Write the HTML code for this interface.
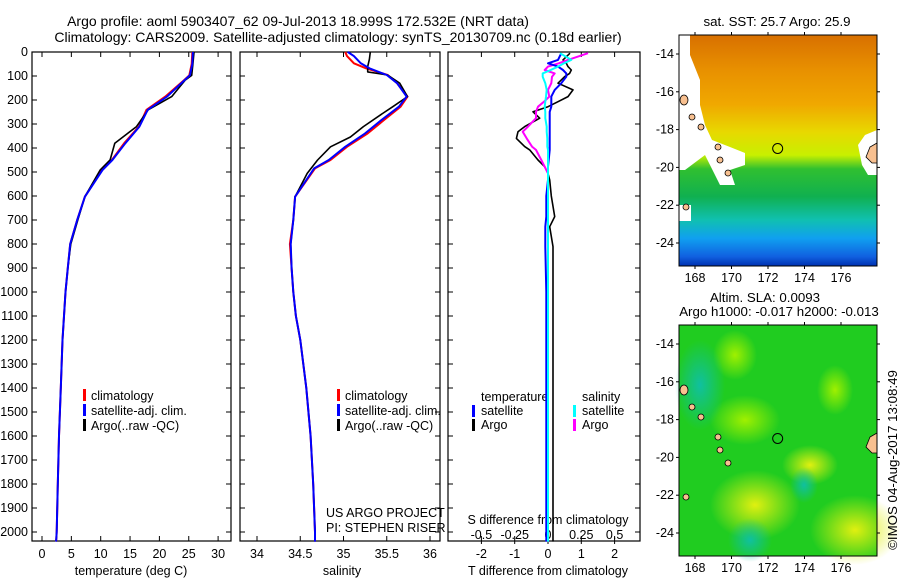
<!DOCTYPE html>
<html><head><meta charset="utf-8">
<style>
html,body{margin:0;padding:0;background:#fff;}
svg{display:block;font-family:"Liberation Sans",Arial,sans-serif;}
text{font-size:12.5px;fill:#000;}
.tt{font-size:14px;}
.mt{font-size:13.3px;}
</style></head>
<body>
<svg id="c" width="900" height="580" viewBox="0 0 900 580">
<defs>
<linearGradient id="sst" x1="0" y1="0" x2="0" y2="1">
<stop offset="0" stop-color="#d87000"/>
<stop offset="0.15" stop-color="#e89000"/>
<stop offset="0.3" stop-color="#f0a800"/>
<stop offset="0.42" stop-color="#e8d800"/>
<stop offset="0.52" stop-color="#c8f000"/>
<stop offset="0.58" stop-color="#30c030"/>
<stop offset="0.7" stop-color="#10b050"/>
<stop offset="0.8" stop-color="#10c0b0"/>
<stop offset="0.88" stop-color="#10a0f0"/>
<stop offset="0.96" stop-color="#1060e0"/>
<stop offset="1" stop-color="#0030b0"/>
</linearGradient>
<radialGradient id="yel"><stop offset="0" stop-color="#e0f010"/><stop offset="1" stop-color="#e0f010" stop-opacity="0"/></radialGradient>
<radialGradient id="lg"><stop offset="0" stop-color="#a0f000"/><stop offset="1" stop-color="#a0f000" stop-opacity="0"/></radialGradient>
<radialGradient id="tl"><stop offset="0" stop-color="#10c0a0"/><stop offset="1" stop-color="#10c0a0" stop-opacity="0"/></radialGradient>
</defs>
<g id="titles">
<text class="tt" x="298" y="26" text-anchor="middle">Argo profile: aoml 5903407_62 09-Jul-2013 18.999S 172.532E (NRT data)</text>
<text class="tt" x="338" y="42" text-anchor="middle">Climatology: CARS2009. Satellite-adjusted climatology: synTS_20130709.nc (0.18d earlier)</text>
</g>
<g id="plots"></g>
</svg>
<script>
// ---------- data ----------
const tDepth = [0,50,97,117,186,241,311,380,450,492,603,700,800,900,1000,1200,1400,1600,1800,2000,2040];
const tClim  = [25.6,25.5,25.1,24.2,21.0,17.8,16.5,14.0,11.9,10.2,7.3,6.0,4.8,4.4,4.0,3.5,3.2,2.9,2.7,2.5,2.4];
const tSat   = [25.7,25.6,25.2,24.3,21.3,18.0,16.6,14.2,12.0,10.3,7.3,6.0,4.8,4.4,4.0,3.5,3.2,2.9,2.7,2.5,2.4];
const tArgo  = [25.9,25.7,25.5,24.4,22.1,18.1,16.1,12.4,11.6,9.9,7.3,6.1,4.9,4.4,4.0,3.5,3.2,2.9,2.7,2.5,2.4];

const sDepth = [0,17,47,68,96,130,186,228,283,339,395,450,485,603,700,800,900,1000,1100,1200,1400,1600,1800,2000,2040];
const sClim  = [35.02,35.04,35.12,35.26,35.51,35.62,35.74,35.66,35.47,35.28,35.04,34.85,34.67,34.44,34.42,34.38,34.40,34.42,34.45,34.50,34.57,34.62,34.65,34.67,34.67];
const sSat   = [35.05,35.12,35.20,35.30,35.50,35.62,35.73,35.64,35.44,35.25,35.02,34.83,34.66,34.44,34.42,34.39,34.40,34.42,34.45,34.50,34.57,34.62,34.65,34.67,34.67];
const aDepth = [0,30,61,83,96,130,186,228,254,311,354,395,450,506,603,700,800,900,1000,1100,1200,1400,1600,1800,2000,2040];
const sArgo  = [35.31,35.30,35.28,35.28,35.51,35.65,35.74,35.57,35.46,35.23,35.08,34.85,34.70,34.58,34.44,34.42,34.39,34.40,34.42,34.45,34.50,34.57,34.62,34.65,34.67,34.67];

const dDepth = [5,33,47,61,75,89,103,130,158,186,207,228,249,276,311,332,360,394,408,450,478,506,533,600,686,728,811,1000,1500,2040];
const dTSat  = [0.4,0.3,0.0,0.3,0.45,0.55,0.55,0.4,0.2,0.1,0.1,0.1,0.05,0.05,0.05,0.05,0.05,0.05,0.05,0.02,0.0,0.0,0.0,-0.05,-0.05,-0.08,-0.08,-0.05,-0.05,-0.05];
const dTArgo = [0.66,0.45,0.55,0.6,0.7,0.65,0.5,0.3,0.75,0.6,0.3,0.0,-0.45,-0.25,-0.7,-0.9,-0.95,-0.7,-0.55,-0.3,-0.1,0.0,0.05,0.1,0.2,0.05,0.15,0.15,0.15,0.15];
const dSSat  = [0.09,0.175,0.12,0.075,0.02,-0.04,-0.04,-0.02,-0.01,-0.015,-0.02,-0.025,-0.02,-0.02,-0.01,-0.01,-0.005,-0.005,0,0,0,0,0,0,0,0,0,0,0,0];
const dSArgo = [0.3,0.15,0.08,0.0,-0.025,0.05,0.03,0.025,0.0,0.01,-0.03,-0.075,-0.09,-0.09,-0.15,-0.19,-0.16,-0.12,-0.09,-0.05,-0.025,0,0,0,0,0,0,0,0,0];

const yTicks = [0,100,200,300,400,500,600,700,800,900,1000,1100,1200,1300,1400,1500,1600,1700,1800,1900,2000];
const tTicks = [0,5,10,15,20,25,30];
const sTicks = [34,34.5,35,35.5,36];
const dtTicks = [-2,-1,0,1,2];
const dsTicks = [-0.5,-0.25,0,0.25,0.5];
const dsTickLabels = ["-0.5","-0.25","0","0.25","0.5"];
const latTicks = [-14,-16,-18,-20,-22,-24];
const lonTicks = [168,170,172,174,176];

// ---------- helpers ----------
const NS = "http://www.w3.org/2000/svg";
const root = document.getElementById('plots');
function el(tag, attrs, parent, txt){
  const e = document.createElementNS(NS, tag);
  for (const k in attrs) e.setAttribute(k, attrs[k]);
  if (txt !== undefined) e.textContent = txt;
  (parent || root).appendChild(e);
  return e;
}
const yScale = d => 52 + d*0.24;
const tX = v => 42 + v*5.87;
const sX = v => 257 + (v-34)*86.5;
const dtX = v => 548 + v*33.3;
const dsX = v => 548 + v*133.2;

function line(xs, ds, fx, color, w, name){
  let p = '';
  for (let i=0;i<ds.length;i++) p += (i?'L':'M') + fx(xs[i]).toFixed(1) + ',' + yScale(ds[i]).toFixed(1);
  const e = el('path', {d:p, fill:'none', stroke:color, 'stroke-width':w, 'stroke-linejoin':'round'});
  
  
  return e;
}

function panel(x0, x1, name){
  const g = el('g', {});
  
  
  const r = el('rect', {x:x0, y:52, width:x1-x0, height:489, fill:'none', stroke:'#000', 'stroke-width':1.2}, g);
  
  
  for (const t of yTicks){
    el('line', {x1:x0, x2:x0+5, y1:yScale(t), y2:yScale(t), stroke:'#000'}, g);
    el('line', {x1:x1, x2:x1-5, y1:yScale(t), y2:yScale(t), stroke:'#000'}, g);
  }
  return g;
}
function xTicks(g, ticks, fx, labels, ly){
  ticks.forEach((t,i)=>{
    el('line', {x1:fx(t), x2:fx(t), y1:541, y2:536, stroke:'#000'}, g);
    el('line', {x1:fx(t), x2:fx(t), y1:52, y2:57, stroke:'#000'}, g);
    const tx = el('text', {x:fx(t), y:ly, 'text-anchor':'middle'}, g, labels ? labels[i] : String(t));
    
    
  });
}

// y-axis labels
const ya = el('g', {});


for (const t of yTicks){
  const tx = el('text', {x:28, y:yScale(t)+4, 'text-anchor':'end'}, ya, String(t));
  
  
}

// Panel 1 temperature
const p1 = panel(32, 231, 'temperature-panel');
xTicks(p1, tTicks, tX, null, 558);
el('text', {x:131, y:575, 'text-anchor':'middle',  }, p1, 'temperature (deg C)');
line(tClim, tDepth, tX, '#ff0000', 2, 'temperature-climatology-line');
line(tArgo, tDepth, tX, '#000000', 1.6, 'temperature-argo-line');
line(tSat, tDepth, tX, '#0000ff', 2, 'temperature-satellite-line');

// Panel 2 salinity
const p2 = panel(240, 440, 'salinity-panel');
xTicks(p2, sTicks, sX, null, 558);
el('text', {x:342, y:575, 'text-anchor':'middle',  }, p2, 'salinity');
line(sClim, sDepth, sX, '#ff0000', 2, 'salinity-climatology-line');
line(sArgo, aDepth, sX, '#000000', 1.6, 'salinity-argo-line');
line(sSat, sDepth, sX, '#0000ff', 2, 'salinity-satellite-line');
el('text', {x:326, y:517,  }, p2, 'US ARGO PROJECT');
el('text', {x:326, y:532,  }, p2, 'PI: STEPHEN RISER');

// legends 1 & 2
function legend(g, x, items, prefix){
  items.forEach((it,i)=>{
    const y = 398 + i*15;
    const m = el('rect', {x:x, y:y-9, width:3, height:12, fill:it[0]}, g);
    
    
    const t = el('text', {x:x+8, y:y+2}, g, it[1]);
    
    
  });
}
const lg = [['#ff0000','climatology'],['#0000ff','satellite-adj. clim.'],['#000000','Argo(..raw -QC)']];
legend(p1, 83, lg, 'temperature');
legend(p2, 337, lg, 'salinity');

// Panel 3 differences
const p3 = panel(448, 640, 'difference-panel');
xTicks(p3, dtTicks, dtX, null, 558);
dsTicks.forEach((t,i)=>{
  el('line', {x1:dsX(t), x2:dsX(t), y1:541, y2:544, stroke:'#000'}, p3);
  const tx = el('text', {x:dsX(t), y:539, 'text-anchor':'middle'}, p3, dsTickLabels[i]);
  
  
});
el('text', {x:548, y:524, 'text-anchor':'middle',  }, p3, 'S difference from climatology');
el('text', {x:548, y:575, 'text-anchor':'middle',  }, p3, 'T difference from climatology');
line(dTArgo, dDepth, dtX, '#000000', 1.6, 't-diff-argo-line');
line(dSArgo, dDepth, dsX, '#ff00ff', 2, 's-diff-argo-line');
line(dTSat, dDepth, dtX, '#0000ff', 2, 't-diff-satellite-line');
line(dSSat, dDepth, dsX, '#00ffff', 2, 's-diff-satellite-line');
el('text', {x:481, y:401,  }, p3, 'temperature');
el('text', {x:582, y:401,  }, p3, 'salinity');
[['#0000ff',472,415,'satellite'],['#000000',472,429,'Argo'],['#00ffff',573,415,'satellite'],['#ff00ff',573,429,'Argo']].forEach(it=>{
  const m = el('rect', {x:it[1], y:it[2]-10, width:3, height:12, fill:it[0]}, p3);
  
  
  const t = el('text', {x:it[1]+9, y:it[2]}, p3, it[3]);
  
  
});

// ---------- maps ----------
function map(y0, name, isSST){
  const g = el('g', {});
  
  
  const x0 = 679, w = 198, h = 231;
  const lonX = v => 695 + (v-168)*18.25;
  const latY = v => y0 + 19 + (-14 - v)*18.9;
  if (isSST){
    el('rect', {x:x0, y:y0, width:w, height:h, fill:'url(#sst)'}, g);
    el('path', {d:`M679,${y0} L690,${y0} L690,${y0+20} L700,${y0+45} L700,${y0+70} L705,${y0+90} L712,${y0+105} L730,${y0+112} L745,${y0+118} L745,${y0+130} L730,${y0+135} L735,${y0+150} L720,${y0+150} L705,${y0+120} L685,${y0+135} L679,${y0+135} Z`, fill:'#fff'}, g);
    el('path', {d:`M877,${y0+95} L865,${y0+100} L858,${y0+110} L862,${y0+130} L868,${y0+140} L877,${y0+140} Z`, fill:'#fff'}, g);
    el('rect', {x:679, y:y0+170, width:12, height:16, fill:'#fff'}, g);
  } else {
    el('rect', {x:x0, y:y0, width:w, height:h, fill:'#20cc20'}, g);
    el('ellipse', {cx:735, cy:y0+30, rx:22, ry:25, fill:'url(#lg)'}, g);
    el('ellipse', {cx:745, cy:y0+95, rx:35, ry:25, fill:'url(#lg)'}, g);
    el('ellipse', {cx:835, cy:y0+65, rx:18, ry:25, fill:'url(#lg)'}, g);
    el('ellipse', {cx:810, cy:y0+140, rx:28, ry:20, fill:'url(#yel)'}, g);
    el('ellipse', {cx:755, cy:y0+180, rx:45, ry:35, fill:'url(#yel)'}, g);
    el('ellipse', {cx:855, cy:y0+205, rx:45, ry:35, fill:'url(#yel)'}, g);
    el('ellipse', {cx:700, cy:y0+60, rx:25, ry:45, fill:'url(#tl)'}, g);
    el('ellipse', {cx:750, cy:y0+215, rx:22, ry:22, fill:'url(#tl)'}, g);
    el('ellipse', {cx:804, cy:y0+160, rx:14, ry:18, fill:'url(#tl)'}, g);
  }
  [[684,y0+65,4,5],[692,y0+82,3,3],[701,y0+92,3,3],[718,y0+112,3,3],[720,y0+125,3,3],[728,y0+138,3,3],[686,y0+172,3,3]].forEach(p=>{
    el('ellipse', {cx:p[0], cy:p[1], rx:p[2], ry:p[3], fill:'#f8c090', stroke:'#000', 'stroke-width':0.8}, g);
  });
  el('path', {d:`M877,${y0+108} L870,${y0+112} L866,${y0+122} L872,${y0+128} L877,${y0+128} Z`, fill:'#f8c090', stroke:'#000', 'stroke-width':0.8}, g);
  const fr = el('rect', {x:x0, y:y0, width:w, height:h, fill:'none', stroke:'#000', 'stroke-width':1}, g);
  
  
  const c = el('circle', {cx:lonX(172.53), cy:latY(-19), r:5, fill:'none', stroke:'#000', 'stroke-width':1}, g);
  
  
  latTicks.forEach(v=>{
    el('line', {x1:x0-3, x2:x0, y1:latY(v), y2:latY(v), stroke:'#000'}, g);
    el('line', {x1:x0+w, x2:x0+w+3, y1:latY(v), y2:latY(v), stroke:'#000'}, g);
    const t = el('text', {x:674, y:latY(v)+4, 'text-anchor':'end'}, g, String(v));
    
    
  });
  lonTicks.forEach(v=>{
    el('line', {x1:lonX(v), x2:lonX(v), y1:y0+h, y2:y0+h+3, stroke:'#000'}, g);
    el('line', {x1:lonX(v), x2:lonX(v), y1:y0-3, y2:y0, stroke:'#000'}, g);
    const t = el('text', {x:lonX(v), y:y0+h+16, 'text-anchor':'middle'}, g, String(v));
    
    
  });
  return g;
}
map(35, 'sst-map', true);
map(325, 'sla-map', false);
el('text', {class:'mt', x:777, y:26, 'text-anchor':'middle',  }, root, 'sat. SST: 25.7 Argo: 25.9');
el('text', {class:'mt', x:765, y:302, 'text-anchor':'middle',  }, root, 'Altim. SLA: 0.0093');
el('text', {class:'mt', x:779, y:316, 'text-anchor':'middle',  }, root, 'Argo h1000: -0.017 h2000: -0.013');
el('text', {class:'mt', x:897, y:460, 'text-anchor':'middle', transform:'rotate(-90 897 460)',  }, root, '©IMOS 04-Aug-2017 13:08:49');
</script>
</body></html>
